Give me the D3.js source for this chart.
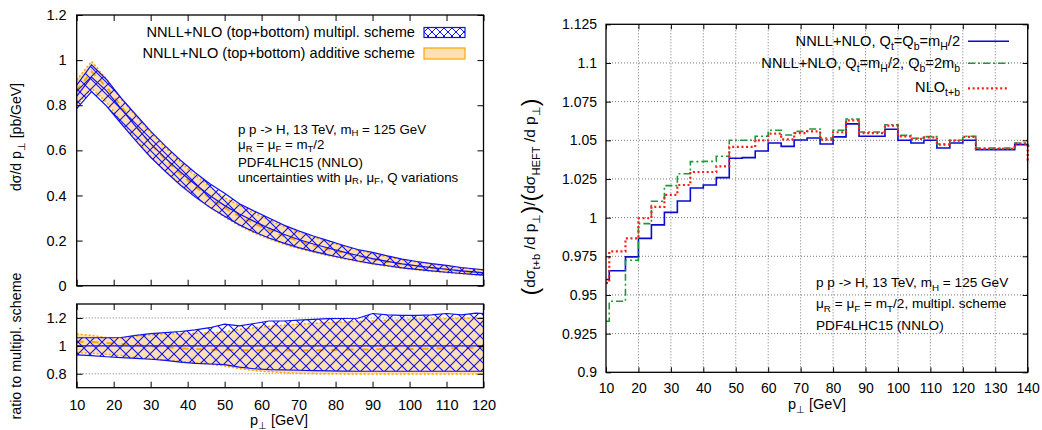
<!DOCTYPE html>
<html><head><meta charset="utf-8">
<script src="https://cdn.jsdelivr.net/npm/d3@7"></script>
<style>
body{margin:0;background:#fff}
svg{display:block}
text{font-family:"Liberation Sans",Arial,Helvetica,sans-serif;fill:#000;white-space:pre}
</style>
</head><body>
<svg id="c" width="1042" height="430"></svg>
<script>
// ---------------- DATA ----------------
// left panel: pT points (GeV)
const ptLeft = [10,14,18,22,26,30,34,38,42,46,50,54,58,62,66,70,74,78,82,86,90,94,98,102,106,110,114,118,122];
// central NNLL+NLO (multiplicative scheme), pb/GeV
const centralXS = [0.84,0.925,0.865,0.785,0.705,0.63,0.565,0.505,0.45,0.40,0.355,0.318,0.285,0.255,0.228,0.205,0.185,0.167,0.150,0.134,0.120,0.108,0.097,0.088,0.080,0.073,0.066,0.060,0.054];
// ratio to multiplicative central: multiplicative band
const multUp = [1.058,1.058,1.058,1.060,1.075,1.088,1.095,1.103,1.115,1.130,1.155,1.143,1.160,1.178,1.178,1.185,1.190,1.195,1.196,1.198,1.232,1.222,1.218,1.218,1.222,1.232,1.222,1.235,1.228];
const multLo = [0.935,0.930,0.922,0.916,0.910,0.904,0.896,0.884,0.875,0.870,0.866,0.848,0.836,0.830,0.828,0.825,0.822,0.820,0.819,0.818,0.818,0.818,0.818,0.818,0.818,0.818,0.818,0.818,0.818];
// ratio to multiplicative central: additive band and its central value
const addUp = [1.085,1.075,1.060,1.055,1.068,1.078,1.084,1.088,1.090,1.094,1.100,1.118,1.130,1.140,1.149,1.156,1.162,1.167,1.171,1.176,1.180,1.184,1.187,1.190,1.192,1.194,1.197,1.200,1.202];
const addLo = [0.952,0.946,0.940,0.930,0.918,0.908,0.899,0.889,0.879,0.869,0.856,0.836,0.822,0.814,0.808,0.803,0.801,0.800,0.799,0.799,0.799,0.799,0.799,0.799,0.799,0.799,0.799,0.799,0.799];
const addMid = [1.030,1.027,1.020,1.013,1.005,0.997,0.990,0.982,0.977,0.973,0.970,0.969,0.968,0.968,0.967,0.967,0.968,0.970,0.972,0.974,0.975,0.976,0.977,0.978,0.980,0.982,0.984,0.986,0.987];

// right panel: bin edges (GeV) and ratios (t+b)/HEFT
const binEdges = [10,11,16,20,24,28,32,36,40,44,48,52,56,60,64,68,72,76,80,84,88,92,96,100,104,108,112,116,120,124,128,132,136,140,144];
const ratioQtQb = [0.960,0.9657,0.9746,0.9866,0.9953,1.0034,1.0108,1.0192,1.0211,1.0259,1.0384,1.0388,1.0431,1.0483,1.0461,1.0502,1.0515,1.0476,1.0522,1.0606,1.0526,1.0526,1.0571,1.0500,1.0483,1.0500,1.0450,1.0483,1.0500,1.0440,1.0440,1.0440,1.0472,1.0465];
const ratioQb2mb = [0.933,0.9459,0.9724,0.9961,1.0106,1.0207,1.0284,1.0362,1.0364,1.0397,1.0500,1.0500,1.0526,1.0565,1.0534,1.0558,1.0573,1.0515,1.0565,1.0638,1.0554,1.0554,1.0601,1.0532,1.0513,1.0524,1.0476,1.0500,1.0526,1.0450,1.0450,1.0450,1.0483,1.0460];
const ratioNLO = [0.9578,0.9782,0.9866,0.9996,1.0069,1.0147,1.0211,1.0295,1.0295,1.0332,1.0457,1.0457,1.0500,1.0543,1.0506,1.0547,1.0558,1.0504,1.0552,1.0629,1.0547,1.0547,1.0595,1.0526,1.0509,1.0519,1.0472,1.0498,1.0522,1.0444,1.0444,1.0444,1.0478,1.0362];

// tick labels
const xTicksLeft = [10,20,30,40,50,60,70,80,90,100,110,120];
const yTicksTop = [0,0.2,0.4,0.6,0.8,1,1.2];
const yTicksRatio = [0.8,1,1.2];
const xTicksRight = [10,20,30,40,50,60,70,80,90,100,110,120,130,140];
const yTicksRight = [0.9,0.925,0.95,0.975,1,1.025,1.05,1.075,1.1,1.125];

// ---------------- DRAWING ----------------
const svg = d3.select('#c');
const BLUE = '#1010f0', ORANGE = '#ffa500', FILLO = '#ffe0b2';
const defs = svg.append('defs');
function hatch(id, s, w) {
  const p = defs.append('pattern').attr('id', id).attr('patternUnits', 'userSpaceOnUse')
    .attr('width', s).attr('height', s);
  p.append('path').attr('d', `M0,0L${s},${s}M${s},0L0,${s}`)
    .attr('stroke', BLUE).attr('stroke-width', w).attr('fill', 'none');
}
hatch('hx', 12, 1.1);
hatch('hxs', 8, 1);

function clip(id, x0, y0, x1, y1) {
  defs.append('clipPath').attr('id', id).append('rect')
    .attr('x', x0).attr('y', y0).attr('width', x1 - x0).attr('height', y1 - y0);
}

function rich(g, x, y, parts, size, anchor, transform, subShift) {
  const t = g.append('text').attr('x', x).attr('y', y).attr('font-size', size)
    .attr('text-anchor', anchor || 'start');
  if (transform) t.attr('transform', transform);
  const ss = subShift == null ? 0.3 : subShift;
  let shift = 0;
  parts.forEach(p => {
    const [s, kind] = typeof p === 'string' ? [p, 'n'] : p;
    const ts = t.append('tspan').text(s);
    let target = 0, fs = size;
    if (kind === 's') { target = size * ss; fs = size * 0.72; }
    if (kind === 'b') { target = size * 0.17; fs = size * 1.5; }
    ts.attr('font-size', fs);
    if (Math.abs(target - shift) > 1e-6) { ts.attr('dy', target - shift); shift = target; }
  });
  return t;
}

function axes(g, x, y, xt, yt, o) {
  const [xa, xb] = x.range(), [ya, yb] = y.range();
  const none = () => '';
  const fmt = d3.format('~g');
  const b = g.append('g').attr('transform', `translate(0,${ya})`)
    .call(d3.axisBottom(x).tickValues(xt).tickSize(-o.tick).tickPadding(o.xpad).tickFormat(o.xlab ? fmt : none));
  const t = g.append('g').attr('transform', `translate(0,${yb})`)
    .call(d3.axisTop(x).tickValues(xt).tickSize(-o.tick).tickFormat(none));
  const l = g.append('g').attr('transform', `translate(${xa},0)`)
    .call(d3.axisLeft(y).tickValues(yt).tickSize(-o.tick).tickPadding(o.ypad).tickFormat(fmt));
  const r = g.append('g').attr('transform', `translate(${xb},0)`)
    .call(d3.axisRight(y).tickValues(yt).tickSize(-o.tick).tickFormat(none));
  [b, t, l, r].forEach(a => {
    a.attr('font-size', null).attr('font-family', null);
    a.select('.domain').remove();
    a.selectAll('line').attr('stroke', '#000').attr('stroke-width', 1);
    a.selectAll('text').attr('font-size', o.fs);
  });
  g.append('rect').attr('x', xa).attr('y', yb).attr('width', xb - xa).attr('height', ya - yb)
    .attr('fill', 'none').attr('stroke', '#000').attr('stroke-width', 1.3);
}

// ---- left top panel ----
const xL = d3.scaleLinear([10, 120], [76.7, 483.5]);
const yT = d3.scaleLinear([0, 1.2], [285.7, 15]);
const yQ = d3.scaleLinear([0.7, 1.3], [387.7, 304]);
clip('cT', 76.7, 15, 483.5, 285.7);
clip('cQ', 76.7, 304, 483.5, 387.7);

const idx = d3.range(ptLeft.length);
const gT = svg.append('g').attr('clip-path', 'url(#cT)');
function bandT(lo, hi) {
  return d3.area().x(i => xL(ptLeft[i])).y0(i => yT(centralXS[i] * lo[i])).y1(i => yT(centralXS[i] * hi[i]))(idx);
}
function lineT(arr) {
  return d3.line().x(i => xL(ptLeft[i])).y(i => yT(centralXS[i] * arr[i]))(idx);
}
gT.append('path').attr('d', bandT(addLo, addUp)).attr('fill', FILLO);
[addLo, addUp].forEach(a => gT.append('path').attr('d', lineT(a)).attr('fill', 'none')
  .attr('stroke', ORANGE).attr('stroke-width', 1.5).attr('stroke-dasharray', '2,2'));
gT.append('path').attr('d', lineT(addMid)).attr('fill', 'none').attr('stroke', ORANGE)
  .attr('stroke-width', 2).attr('stroke-dasharray', '6,6');
gT.append('path').attr('d', bandT(multLo, multUp)).attr('fill', 'url(#hx)');
const ones = ptLeft.map(() => 1);
[multLo, multUp, ones].forEach(a => gT.append('path').attr('d', lineT(a)).attr('fill', 'none')
  .attr('stroke', BLUE).attr('stroke-width', 1.2));

axes(svg.append('g'), xL, yT, xTicksLeft, yTicksTop, {tick: 6, xpad: 10, ypad: 10, fs: 14.5, xlab: false});

// legend left
const legL = svg.append('g');
rich(legL, 415, 36.5, ['NNLL+NLO (top+bottom) multipl. scheme'], 14.6, 'end');
rich(legL, 415, 58, ['NNLL+NLO (top+bottom) additive scheme'], 14.6, 'end');
legL.append('rect').attr('x', 424).attr('y', 27.5).attr('width', 41).attr('height', 10)
  .attr('fill', 'url(#hxs)').attr('stroke', BLUE).attr('stroke-width', 1.2);
legL.append('rect').attr('x', 424).attr('y', 48).attr('width', 41).attr('height', 11)
  .attr('fill', FILLO).attr('stroke', ORANGE).attr('stroke-width', 1.2);

// annotations left
const annL = svg.append('g');
rich(annL, 238, 133.5, ['p p -> H, 13 TeV, m', ['H', 's'], ' = 125 GeV'], 13.3, null, null, 0.22);
rich(annL, 238, 149, ['μ', ['R', 's'], ' = μ', ['F', 's'], ' = m', ['T', 's'], '/2'], 13.3, null, null, 0.22);
rich(annL, 238, 166.5, ['PDF4LHC15 (NNLO)'], 13.3, null, null, 0.22);
rich(annL, 238, 181.5, ['uncertainties with μ', ['R', 's'], ', μ', ['F', 's'], ', Q variations'], 13.3, null, null, 0.22);

// ---- left ratio panel ----
const gQg = svg.append('g');
yTicksRatio.forEach(v => gQg.append('line').attr('x1', 76.7).attr('x2', 483.5).attr('y1', yQ(v)).attr('y2', yQ(v))
  .attr('stroke', '#777').attr('stroke-width', 1).attr('stroke-dasharray', '1,2'));
const gQ = svg.append('g').attr('clip-path', 'url(#cQ)');
function bandQ(lo, hi) {
  return d3.area().x(i => xL(ptLeft[i])).y0(i => yQ(lo[i])).y1(i => yQ(hi[i]))(idx);
}
function lineQ(arr) { return d3.line().x(i => xL(ptLeft[i])).y(i => yQ(arr[i]))(idx); }
gQ.append('path').attr('d', bandQ(addLo, addUp)).attr('fill', FILLO);
[addLo, addUp].forEach(a => gQ.append('path').attr('d', lineQ(a)).attr('fill', 'none')
  .attr('stroke', ORANGE).attr('stroke-width', 1.5).attr('stroke-dasharray', '2,2'));
gQ.append('path').attr('d', lineQ(addMid)).attr('fill', 'none').attr('stroke', ORANGE)
  .attr('stroke-width', 2).attr('stroke-dasharray', '7,8');
gQ.append('path').attr('d', bandQ(multLo, multUp)).attr('fill', 'url(#hx)');
[multLo, multUp, ones].forEach(a => gQ.append('path').attr('d', lineQ(a)).attr('fill', 'none')
  .attr('stroke', BLUE).attr('stroke-width', 1.2));
axes(svg.append('g'), xL, yQ, xTicksLeft, yTicksRatio, {tick: 6, xpad: 12, ypad: 10, fs: 14.5, xlab: true});

// left axis titles
rich(svg, 0, 0, ['dσ/d p', ['⊥', 's'], ' [pb/GeV]'], 14, 'middle', 'translate(21,137) rotate(-90)');
rich(svg, 0, 0, ['ratio to multipl. scheme'], 14.3, 'middle', 'translate(21,346) rotate(-90)');
rich(svg, 279, 424.5, ['p', ['⊥', 's'], ' [GeV]'], 14.5, 'middle');

// ---- right panel ----
const xR = d3.scaleLinear([10, 140], [606, 1027.7]);
const yR = d3.scaleLinear([0.9, 1.125], [372.3, 24.3]);
clip('cR', 606, 24.3, 1029.2, 372.3);
const gRg = svg.append('g');
xTicksRight.slice(1, -1).forEach(v => gRg.append('line').attr('x1', xR(v)).attr('x2', xR(v)).attr('y1', 24.3).attr('y2', 372.3));
yTicksRight.slice(1, -1).forEach(v => gRg.append('line').attr('x1', 606).attr('x2', 1027.7).attr('y1', yR(v)).attr('y2', yR(v)));
gRg.selectAll('line').attr('stroke', '#777').attr('stroke-width', 1).attr('stroke-dasharray', '1,2');

const gR = svg.append('g').attr('clip-path', 'url(#cR)');
function stepPath(vals) {
  const pts = vals.map((v, i) => [binEdges[i], v]);
  pts.push([binEdges[vals.length], vals[vals.length - 1]]);
  return d3.line().x(d => xR(d[0])).y(d => yR(d[1])).curve(d3.curveStepAfter)(pts);
}
const series = [
  {vals: ratioQtQb, color: '#0a0ad0', w: 1.6, dash: null},
  {vals: ratioQb2mb, color: '#1a9a3c', w: 1.6, dash: '7,3,2,3'},
  {vals: ratioNLO, color: '#ff1a1a', w: 2.2, dash: '2,2.6'}
];
series.forEach(s => {
  const p = gR.append('path').attr('d', stepPath(s.vals)).attr('fill', 'none')
    .attr('stroke', s.color).attr('stroke-width', s.w);
  if (s.dash) p.attr('stroke-dasharray', s.dash);
});
axes(svg.append('g'), xR, yR, xTicksRight, yTicksRight, {tick: 5, xpad: 11, ypad: 9, fs: 14, xlab: true});

// legend right
const legR = svg.append('g');
const legItems = [
  {parts: ['NNLL+NLO, Q', ['t', 's'], '=Q', ['b', 's'], '=m', ['H', 's'], '/2'], by: 45.5, ly: 41.3},
  {parts: ['NNLL+NLO, Q', ['t', 's'], '=m', ['H', 's'], '/2, Q', ['b', 's'], '=2m', ['b', 's']], by: 68, ly: 63.3},
  {parts: ['NLO', ['t+b', 's']], by: 91.5, ly: 88.3}
];
legItems.forEach((it, i) => {
  rich(legR, 960, it.by, it.parts, 14.6, 'end');
  const s = series[i];
  const l = legR.append('line').attr('x1', 968).attr('x2', 1009).attr('y1', it.ly).attr('y2', it.ly)
    .attr('stroke', s.color).attr('stroke-width', s.w);
  if (s.dash) l.attr('stroke-dasharray', s.dash);
});

// annotations right
const annR = svg.append('g');
rich(annR, 816, 287, ['p p -> H, 13 TeV, m', ['H', 's'], ' = 125 GeV'], 13.6);
rich(annR, 816, 307.5, ['μ', ['R', 's'], ' = μ', ['F', 's'], ' = m', ['T', 's'], '/2, multipl. scheme'], 13.6);
rich(annR, 816, 329.5, ['PDF4LHC15 (NNLO)'], 13.6);

// right axis titles
rich(svg, 0, 0, [['(', 'b'], 'dσ', ['t+b', 's'], ' /d p', ['⊥', 's'], [')', 'b'], '/', ['(', 'b'], 'dσ', ['HEFT', 's'], ' /d p', ['⊥', 's'], [')', 'b']],
  15.5, 'middle', 'translate(535,197) rotate(-90)');
rich(svg, 817, 408.5, ['p', ['⊥', 's'], ' [GeV]'], 14.5, 'middle');
</script>
</body></html>
